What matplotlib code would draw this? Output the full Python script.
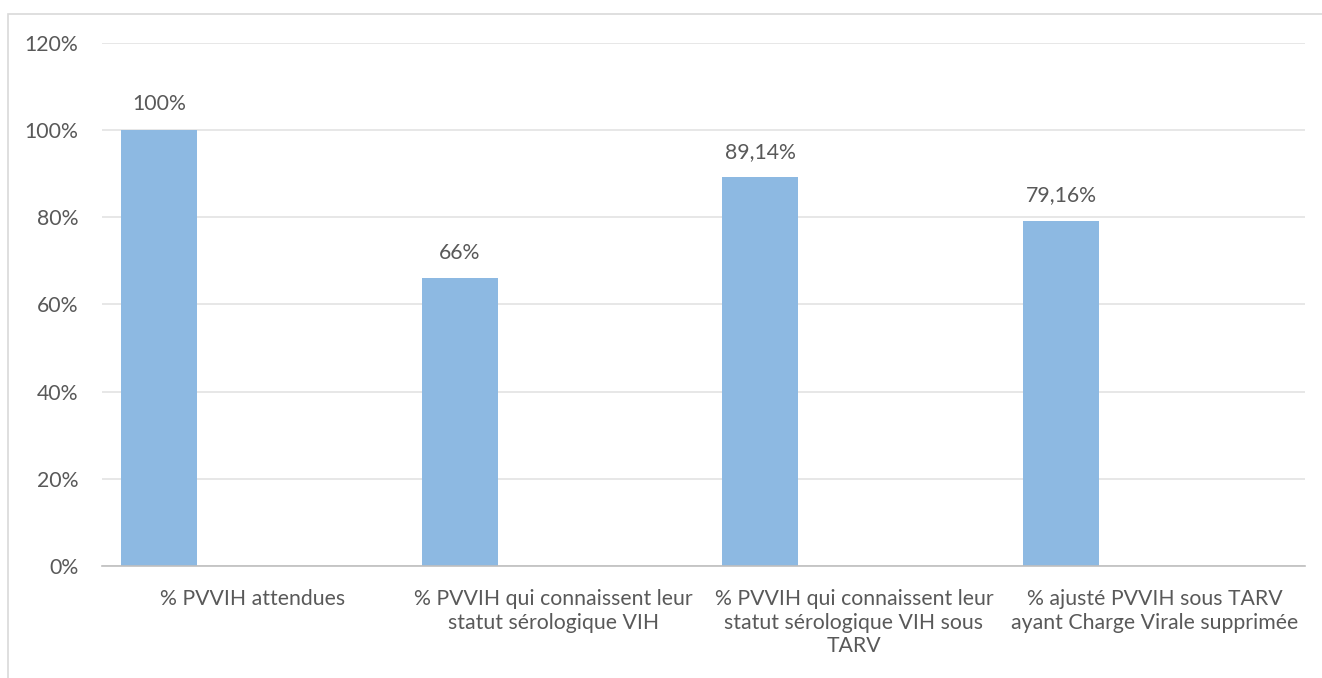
import numpy as np
import matplotlib.pyplot as plt
from matplotlib.patches import Rectangle

categories = [
    "% PVVIH attendues",
    "% PVVIH qui connaissent leur\nstatut sérologique VIH",
    "% PVVIH qui connaissent leur\nstatut sérologique VIH sous\nTARV",
    "% ajusté PVVIH sous TARV\nayant Charge Virale supprimée",
]
values = [100, 66, 89.14, 79.16]
value_labels = ["100%", "66%", "89,14%", "79,16%"]
y_ticks = [0, 20, 40, 60, 80, 100, 120]

txt = "#595959"
fs = 15.3
plt.rcParams['font.family'] = ['Lato', 'DejaVu Sans']

fig = plt.figure(figsize=(13.22, 6.78), dpi=100)
ax = fig.add_axes([0.0772, 0.1652, 0.9099, 0.7714])

# outer chart frame (only top and left edges visible)
fig.patches.append(Rectangle((8 / 1322, -0.1), 1.2, 1.1 - 13.5 / 678,
                             transform=fig.transFigure, fill=False,
                             edgecolor="#D9D9D9", linewidth=1.2))

x = np.arange(len(categories))
bars = ax.bar(x - 0.311, values, width=0.253, color="#8DB9E2", zorder=3)

for b, lab in zip(bars, value_labels):
    ax.annotate(lab, (b.get_x() + b.get_width() / 2, b.get_height()),
                xytext=(0, 18.5), textcoords="offset points",
                ha="center", va="center", fontsize=fs, color=txt)

ax.set_xlim(-0.5, len(categories) - 0.5)
ax.set_ylim(0, 120)
ax.set_yticks(y_ticks)
ax.set_yticklabels([f"{v}%" for v in y_ticks], fontsize=fs, color=txt)
ax.set_xticks(x)
ax.set_xticklabels(categories, fontsize=fs, color=txt, linespacing=1.23)
ax.tick_params(axis="both", length=0)
ax.tick_params(axis="y", pad=17)
ax.tick_params(axis="x", pad=16.5)

ax.grid(axis="y", color="#E3E3E3", linewidth=1.2, zorder=0)
for s in ["top", "right", "left"]:
    ax.spines[s].set_visible(False)
ax.spines["bottom"].set_color("#BFBFBF")
ax.spines["bottom"].set_linewidth(1.2)
ax.spines["bottom"].set_zorder(4)

fig.savefig("out.png", dpi=100)
